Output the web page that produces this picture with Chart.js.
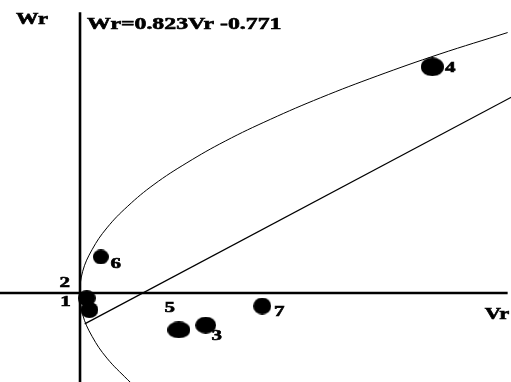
<!DOCTYPE html>
<html>
<head>
<meta charset="utf-8">
<script src="https://cdn.jsdelivr.net/npm/chart.js@4/dist/chart.umd.min.js"></script>
<style>
  html, body { margin: 0; padding: 0; background: #fff; }
  #wrap { width: 511px; height: 382px; }
</style>
</head>
<body>
<div id="wrap"><canvas id="wrvrChart" width="511" height="382"></canvas></div>
<script>
// Parents (array points)
const genotypes = ['1', '2', '3', '4', '5', '6', '7'];
const vrValues = [0.14, 0.10, 1.87, 5.24, 1.47, 0.31, 2.71];
const wrValues = [-0.39, -0.12, -0.74, 5.21, -0.85, 0.83, -0.30];

// Limiting parabola, points
const parabolaVr = [0.78, 0.71, 0.40, 0.18, 0.04, 0.00, 0.04, 0.18, 0.40, 0.71, 1.10, 1.59, 2.16, 2.83, 3.58, 4.42, 5.34, 6.36];
const parabolaWr = [-2.10, -2.00, -1.50, -1.00, -0.50, 0.00, 0.50, 1.00, 1.50, 2.00, 2.50, 3.00, 3.50, 4.00, 4.50, 5.00, 5.50, 6.00];

// Regression line Wr = 0.823Vr - 0.771, end points
const lineVr = [0.07, 6.45];
const lineWr = [-0.71, 4.54];

const equationText = 'Wr=0.823Vr -0.771';
const xTitle = 'Vr';
const yTitle = 'Wr';

// marker sizes (w, h) and label offsets in pixels
const markerSizes = [[18, 16], [18, 16], [21, 17], [23, 19], [23, 17], [16, 15], [18, 17]];
const labelOffsets = [[-24, -8], [-22, -15], [11, 11], [18, 1], [-9, -22], [15, 7], [17, 6]];

function makeEllipse(w, h) {
  const c = document.createElement('canvas');
  c.width = w;
  c.height = h;
  const g = c.getContext('2d');
  g.fillStyle = '#000';
  g.beginPath();
  g.ellipse(w / 2, h / 2, w / 2, h / 2, 0, 0, Math.PI * 2);
  g.fill();
  return c;
}

function stretchedText(ctx, text, x, y, align) {
  ctx.save();
  ctx.translate(x, y);
  ctx.scale(1.4, 1);
  ctx.textAlign = align || 'center';
  ctx.strokeText(text, 0, 0);
  ctx.fillText(text, 0, 0);
  ctx.restore();
}

const axesPlugin = {
  id: 'axesLines',
  beforeDatasetsDraw(chart) {
    const { ctx, scales: { x, y } } = chart;
    const x0 = x.getPixelForValue(0);
    const y0 = y.getPixelForValue(0);
    ctx.save();
    ctx.strokeStyle = '#000';
    ctx.lineWidth = 2.6;
    ctx.beginPath();
    ctx.moveTo(x0, y.getPixelForValue(6.47));
    ctx.lineTo(x0, chart.height);
    ctx.moveTo(0, y0);
    ctx.lineTo(x.getPixelForValue(6.36), y0);
    ctx.stroke();
    ctx.restore();
  }
};

const textPlugin = {
  id: 'textLabels',
  afterDatasetsDraw(chart) {
    const { ctx, scales: { x, y } } = chart;
    ctx.save();
    ctx.fillStyle = '#000';
    ctx.strokeStyle = '#000';
    ctx.lineWidth = 0.6;
    ctx.font = 'bold 15px "Liberation Serif", serif';
    ctx.textBaseline = 'middle';
    genotypes.forEach((g, i) => {
      const px = x.getPixelForValue(vrValues[i]) + labelOffsets[i][0];
      const py = y.getPixelForValue(wrValues[i]) + labelOffsets[i][1];
      stretchedText(ctx, g, px, py);
    });
    ctx.font = 'bold 16px "Liberation Serif", serif';
    stretchedText(ctx, yTitle, 32, 20);
    stretchedText(ctx, xTitle, 497, 315);
    ctx.font = 'bold 17px "Liberation Serif", serif';
    ctx.textBaseline = 'alphabetic';
    stretchedText(ctx, equationText, x.getPixelForValue(0) + 7, 29, 'left');
    ctx.restore();
  }
};

const ctx = document.getElementById('wrvrChart').getContext('2d');
const chart = new Chart(ctx, {
  type: 'scatter',
  data: {
    datasets: [
      {
        label: 'Parabola',
        data: parabolaVr.map((v, i) => ({ x: v, y: parabolaWr[i] })),
        showLine: true,
        borderColor: '#000',
        borderWidth: 1,
        pointRadius: 0,
        tension: 0.4
      },
      {
        label: 'Regression',
        data: lineVr.map((v, i) => ({ x: v, y: lineWr[i] })),
        showLine: true,
        borderColor: '#000',
        borderWidth: 1.3,
        pointRadius: 0
      },
      {
        label: 'Parents',
        data: vrValues.map((v, i) => ({ x: v, y: wrValues[i] })),
        pointStyle: markerSizes.map(s => makeEllipse(s[0], s[1])),
        pointRadius: 10,
        backgroundColor: '#000',
        borderColor: '#000'
      }
    ]
  },
  options: {
    responsive: false,
    animation: false,
    devicePixelRatio: 1,
    layout: { padding: 0, autoPadding: false },
    plugins: { legend: { display: false }, tooltip: { enabled: false } },
    scales: {
      x: { type: 'linear', min: -1.19, max: 6.41, display: false },
      y: { type: 'linear', min: -2.05, max: 6.75, display: false }
    }
  },
  plugins: [axesPlugin, textPlugin]
});
</script>
</body>
</html>
